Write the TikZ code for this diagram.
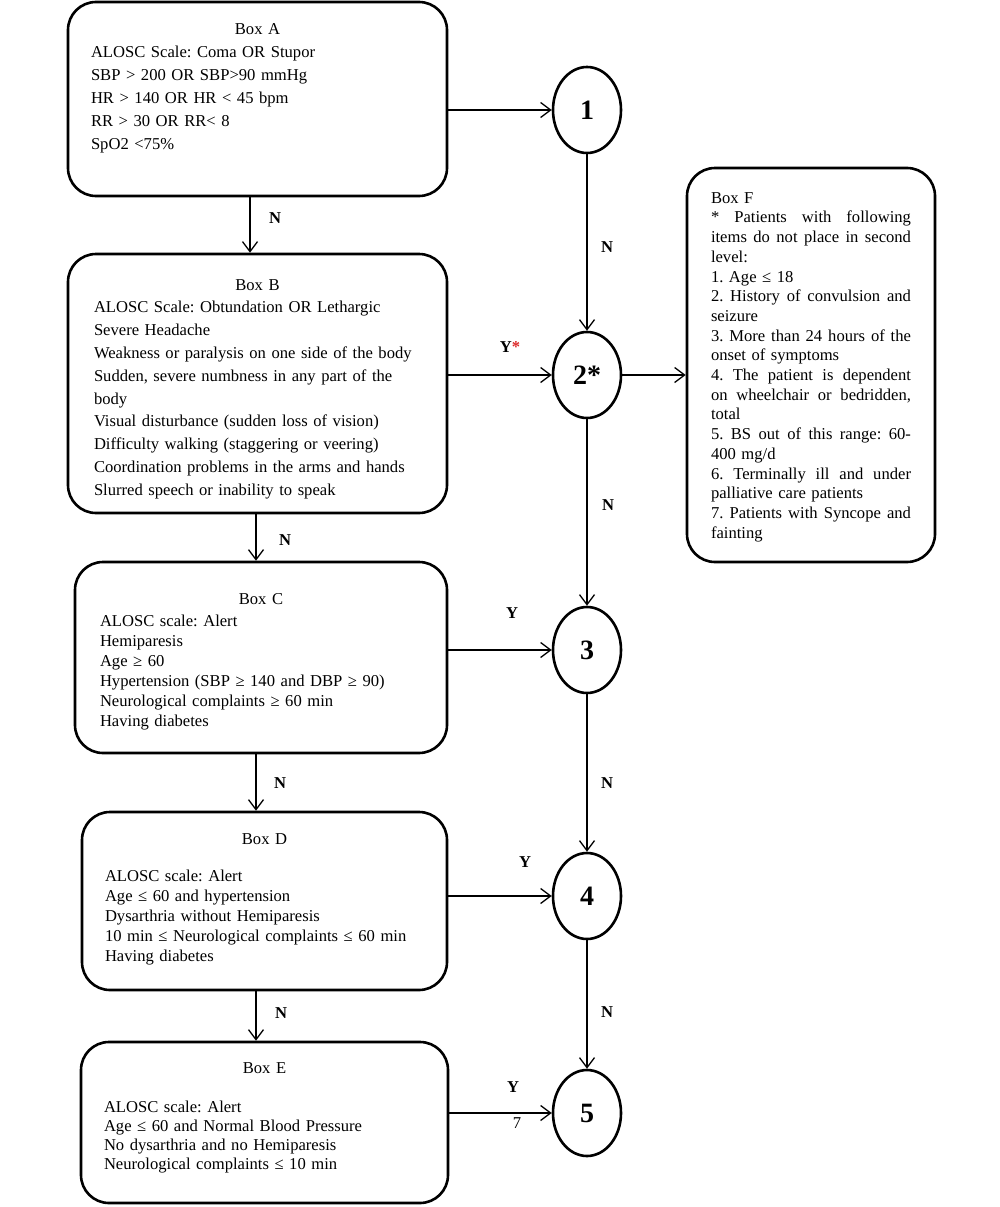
\documentclass[tikz,border=0pt]{standalone}
\usepackage{fontspec}
\setmainfont{Liberation Serif}
\usetikzlibrary{arrows.meta,shapes.geometric}

\definecolor{starred}{RGB}{220,40,40}

\tikzset{
  box/.style={draw, line width=2.6pt, rounded corners=28pt, align=left,
    inner xsep=23pt, inner ysep=0pt},
  stage/.style={draw, ellipse, line width=2.6pt, minimum width=68pt,
    minimum height=86pt, inner sep=0pt, font=\fontsize{28}{30}\selectfont\bfseries},
  arr/.style={-{Straight Barb[length=10pt,width=15pt]}, line width=1.3pt},
  lab/.style={inner sep=0pt, font=\fontsize{16.6}{20}\selectfont\bfseries},
  num/.style={inner sep=0pt, font=\fontsize{16.6}{20}\selectfont},
}

\frenchspacing
% title line, centred; the optional height pushes the text down a little
\newcommand{\boxtitle}[2][0pt]{\hfill\rule{0pt}{#1}#2\hfill\null}
\newcommand{\jst}[1]{\makebox[200pt][s]{\spaceskip=.25em plus 1fil\relax #1}}

\begin{document}
\begin{tikzpicture}[x=1pt,y=-1pt]

    \useasboundingbox (0,0) rectangle (1000,1207);

    % --- Boxes on the left ---
    \node[box, text width=333pt, minimum height=194pt, font=\fontsize{16.6}{23}\selectfont]
      (A) at (257.5,99) {\boxtitle{Box A}\\
        ALOSC Scale: Coma OR Stupor\\
        SBP > 200 OR SBP>90 mmHg\\
        HR > 140 OR HR < 45 bpm\\
        RR > 30 OR RR< 8\\
        SpO2 <75\%\\[2pt]\mbox{}};

    \node[box, text width=327pt, inner xsep=26pt, minimum height=259pt, font=\fontsize{16.6}{22.8}\selectfont]
      (B) at (257.5,383.5) {\boxtitle[22pt]{Box B}\\
        ALOSC Scale: Obtundation OR Lethargic\\
        Severe Headache\\
        Weakness or paralysis on one side of the body\\
        Sudden, severe numbness in any part of the\\
        body\\
        Visual disturbance (sudden loss of vision)\\
        Difficulty walking (staggering or veering)\\
        Coordination problems in the arms and hands\\
        Slurred speech or inability to speak};

    \node[box, text width=322pt, inner xsep=25pt, minimum height=191pt, font=\fontsize{16.6}{20}\selectfont]
      (C) at (261,657.5) {\boxtitle[19pt]{Box C}\\[2pt]
        ALOSC scale: Alert\\
        Hemiparesis\\
        Age ≥ 60\\
        Hypertension (SBP ≥ 140 and DBP ≥ 90)\\
        Neurological complaints ≥ 60 min\\
        Having diabetes};

    \node[box, text width=319pt, minimum height=178pt, font=\fontsize{16.6}{19.8}\selectfont]
      (D) at (264.5,901) {\boxtitle{Box D}\\[18pt]
        ALOSC scale: Alert\\
        Age ≤ 60 and hypertension\\
        Dysarthria without Hemiparesis\\
        10 min ≤ Neurological complaints ≤ 60 min\\
        Having diabetes\\[-12pt]\mbox{}};

    \node[box, text width=321pt, minimum height=161pt, font=\fontsize{16.6}{19}\selectfont]
      (E) at (264.5,1122.5) {\boxtitle{Box E}\\[20pt]
        ALOSC scale: Alert\\
        Age ≤ 60 and Normal Blood Pressure\\
        No dysarthria and no Hemiparesis\\
        Neurological complaints ≤ 10 min\\[-6pt]\mbox{}};

    % --- Box F (exclusions) ---
    \node[box, text width=200pt, inner xsep=24pt, minimum height=394pt,
      font=\fontsize{16.6}{19.7}\selectfont]
      (F) at (811,365) {\rule{0pt}{15pt}Box F\\
        \jst{* Patients with following}\\
        \jst{items do not place in second}\\
        level:\\
        1. Age ≤ 18\\
        \jst{2. History of convulsion and}\\
        seizure\\
        \jst{3. More than 24 hours of the}\\
        onset of symptoms\\
        \jst{4. The patient is dependent}\\
        \jst{on wheelchair or bedridden,}\\
        total\\
        \jst{5. BS out of this range: 60-}\\
        400 mg/d\\
        \jst{6. Terminally ill and under}\\
        palliative care patients\\
        \jst{7. Patients with Syncope and}\\
        fainting};

    % --- Levels ---
    \node[stage] (n1) at (587,110) {1};
    \node[stage] (n2) at (587,375) {2*};
    \node[stage] (n3) at (587,650) {3};
    \node[stage] (n4) at (587,896) {4};
    \node[stage] (n5) at (587,1113) {5};

    % --- Yes branches ---
    \draw[arr] (A.east |- n1) -- (n1);
    \draw[arr] (B.east |- n2) -- (n2);
    \draw[arr] (C.east |- n3) -- (n3);
    \draw[arr] (D.east |- n4) -- (n4);
    \draw[arr] (E.east |- n5) -- (n5);
    \draw[arr] (n2) -- (n2 -| F.west);

    % --- No branches, boxes ---
    \draw[arr] ([xshift=-7.5pt]A.south) -- ([xshift=-7.5pt]A.south |- B.north);
    \draw[arr] ([xshift=-1.5pt]B.south) -- ([xshift=-1.5pt]B.south |- C.north);
    \draw[arr] ([xshift=-5pt]C.south) -- ([xshift=-5pt]C.south |- D.north);
    \draw[arr] ([xshift=-8.5pt]D.south) -- ([xshift=-8.5pt]D.south |- E.north);

    % --- No branches, levels ---
    \draw[arr] (n1) -- (n2);
    \draw[arr] (n2) -- (n3);
    \draw[arr] (n3) -- (n4);
    \draw[arr] (n4) -- (n5);

    % --- Branch labels ---
    \node[lab] (lAB) at (275,218) {N};
    \node[lab] (lBC) at (285,540) {N};
    \node[lab] (lCD) at (280,783) {N};
    \node[lab] (lDE) at (281,1013) {N};
    \node[lab] (l12) at (607,247) {N};
    \node[lab] (l23) at (608,505) {N};
    \node[lab] (l34) at (607,783) {N};
    \node[lab] (l45) at (607,1012) {N};
    \node[lab] (lB2) at (510,347) {Y\textcolor{starred}{*}};
    \node[lab] (lC3) at (512,613) {Y};
    \node[lab] (lD4) at (525,862) {Y};
    \node[lab] (lE5) at (513,1087) {Y};
    \node[num] (lE7) at (517,1123) {7};

\end{tikzpicture}
\end{document}
